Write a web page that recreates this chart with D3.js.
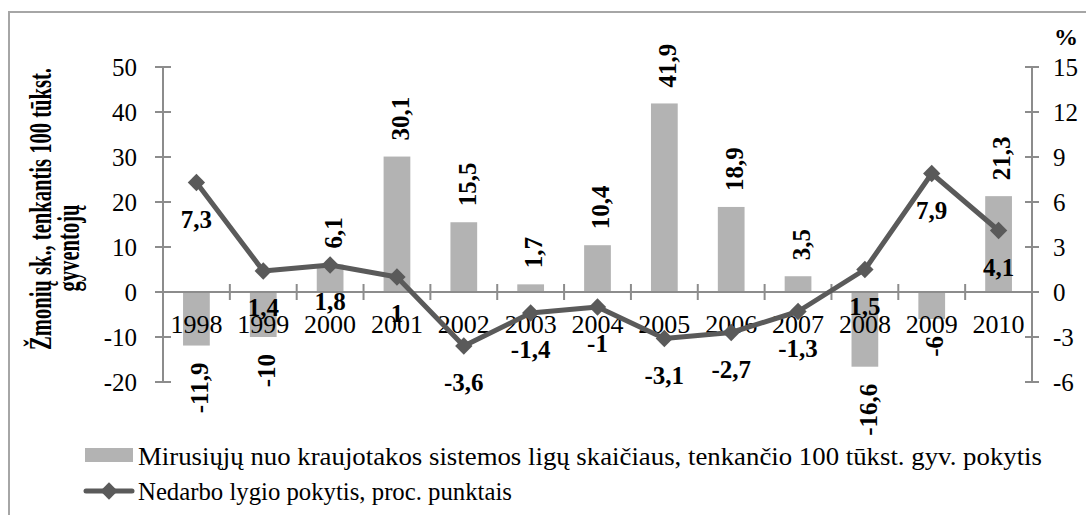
<!DOCTYPE html>
<html>
<head>
<meta charset="utf-8">
<script src="https://cdn.jsdelivr.net/npm/d3@7"></script>
<style>
  html, body { margin: 0; padding: 0; background: #fff; }
  svg { display: block; font-family: "Liberation Serif", "Times New Roman", serif; }
</style>
</head>
<body>
<svg id="chart" width="1086" height="515"></svg>
<script>
// Years on the category axis
const years = ["1998","1999","2000","2001","2002","2003","2004","2005","2006","2007","2008","2009","2010"];
// Change in deaths from circulatory diseases per 100k inhabitants (bars, left axis)
const deathChange = [-11.9, -10, 6.1, 30.1, 15.5, 1.7, 10.4, 41.9, 18.9, 3.5, -16.6, -6, 21.3];
// Change in unemployment rate, percentage points (line, right axis)
const unemploymentChange = [7.3, 1.4, 1.8, 1, -3.6, -1.4, -1, -3.1, -2.7, -1.3, 1.5, 7.9, 4.1];
// Axis tick values
const leftTicks = [-20, -10, 0, 10, 20, 30, 40, 50];
const rightTicks = [-6, -3, 0, 3, 6, 9, 12, 15];
// Texts
const leftTitle = ["Žmonių sk., tenkantis 100 tūkst.", "gyventojų"];
const rightTitle = "%";
const legendLabels = [
  "Mirusiųjų nuo kraujotakos sistemos ligų skaičiaus, tenkančio 100 tūkst. gyv. pokytis",
  "Nedarbo lygio pokytis, proc. punktais"
];

const fmt = v => String(v).replace(".", ",");

const svg = d3.select("#chart");
const axisColor = "#8c8c8c";
const barColor = "#b3b3b3";
const lineColor = "#5a5a5a";

// Outer frame
svg.append("rect")
  .attr("x", 9).attr("y", 12).attr("width", 1100).attr("height", 520)
  .attr("fill", "none").attr("stroke", "#a6a6a6").attr("stroke-width", 2);

const plotLeft = 163, plotRight = 1032, plotTop = 67, plotBottom = 382;

const x = d3.scaleBand().domain(years).range([plotLeft, plotRight])
  .paddingInner(0.6).paddingOuter(0.3);
const yL = d3.scaleLinear().domain([-20, 50]).range([plotBottom, plotTop]);
const yR = d3.scaleLinear().domain([-6, 15]).range([plotBottom, plotTop]);
const cx = d => x(d) + x.bandwidth() / 2;

const barData = years.map((y, i) => ({ year: y, v: deathChange[i] }));
const lineData = years.map((y, i) => ({ year: y, v: unemploymentChange[i] }));

// Bars
svg.append("g").selectAll("rect").data(barData).join("rect")
  .attr("x", d => x(d.year))
  .attr("width", x.bandwidth())
  .attr("y", d => Math.min(yL(d.v), yL(0)))
  .attr("height", d => Math.abs(yL(d.v) - yL(0)))
  .attr("fill", barColor);

// Left value axis
const gL = svg.append("g");
gL.append("line").attr("x1", plotLeft).attr("x2", plotLeft)
  .attr("y1", yL(-20)).attr("y2", yL(50)).attr("stroke", axisColor).attr("stroke-width", 2);
gL.selectAll("line.t").data(leftTicks).join("line").attr("class", "t")
  .attr("x1", plotLeft - 8).attr("x2", plotLeft + 8)
  .attr("y1", d => yL(d)).attr("y2", d => yL(d))
  .attr("stroke", axisColor).attr("stroke-width", 2);
gL.selectAll("text").data(leftTicks).join("text")
  .attr("x", 137).attr("y", d => yL(d)).attr("dy", "0.34em")
  .attr("text-anchor", "end").attr("font-size", 25).attr("fill", "#000")
  .text(d => String(d));

// Right value axis
const gR = svg.append("g");
gR.append("line").attr("x1", plotRight).attr("x2", plotRight)
  .attr("y1", yR(-6)).attr("y2", yR(15)).attr("stroke", axisColor).attr("stroke-width", 2);
gR.selectAll("line.t").data(rightTicks).join("line").attr("class", "t")
  .attr("x1", plotRight - 7).attr("x2", plotRight + 7)
  .attr("y1", d => yR(d)).attr("y2", d => yR(d))
  .attr("stroke", axisColor).attr("stroke-width", 2);
gR.selectAll("text").data(rightTicks).join("text")
  .attr("x", 1053).attr("y", d => yR(d)).attr("dy", "0.34em")
  .attr("text-anchor", "start").attr("font-size", 25).attr("fill", "#000")
  .text(d => String(d));
gR.append("text").attr("x", 1066).attr("y", 45).attr("text-anchor", "middle")
  .attr("font-size", 24).attr("font-weight", "bold").text(rightTitle);

// Category axis along zero
const y0 = yL(0);
const gX = svg.append("g");
gX.append("line").attr("x1", plotLeft).attr("x2", plotRight)
  .attr("y1", y0).attr("y2", y0).attr("stroke", axisColor).attr("stroke-width", 2);
const bounds = years.map(d => cx(d) - x.step() / 2).concat([cx(years[years.length - 1]) + x.step() / 2]);
gX.selectAll("line.t").data(bounds).join("line").attr("class", "t")
  .attr("x1", d => d).attr("x2", d => d)
  .attr("y1", y0 - 8).attr("y2", y0 + 8)
  .attr("stroke", axisColor).attr("stroke-width", 2);
gX.selectAll("text").data(years).join("text")
  .attr("x", d => cx(d)).attr("y", 333)
  .attr("text-anchor", "middle").attr("font-size", 26).text(d => d);

// Left axis title: two rotated lines, tall narrow lettering
const titlePos = [{ x: 51, y: 209, len: 282 }, { x: 79, y: 248, len: 87 }];
svg.append("g").selectAll("text").data(leftTitle).join("text")
  .attr("transform", (d, i) => `translate(${titlePos[i].x},${titlePos[i].y}) rotate(-90) scale(1,1.5)`)
  .attr("text-anchor", "middle").attr("font-size", 21).attr("font-weight", "bold")
  .attr("textLength", (d, i) => titlePos[i].len).attr("lengthAdjust", "spacingAndGlyphs")
  .text(d => d);

// Bar value labels, rotated, just beyond the bar end
svg.append("g").selectAll("text").data(barData).join("text")
  .attr("transform", d => {
    const yy = d.v >= 0 ? yL(d.v) - 16 : yL(d.v) + 17;
    return `translate(${cx(d.year) + 3},${yy}) rotate(-90)`;
  })
  .attr("dy", "0.35em")
  .attr("text-anchor", d => d.v >= 0 ? "start" : "end")
  .attr("font-size", 25).attr("font-weight", "bold")
  .text(d => fmt(d.v));

// Unemployment line with diamond markers
const line = d3.line().x(d => cx(d.year)).y(d => yR(d.v));
svg.append("path").datum(lineData).attr("d", line)
  .attr("fill", "none").attr("stroke", lineColor).attr("stroke-width", 5)
  .attr("stroke-linejoin", "round");
const marker = d3.symbol().type(d3.symbolSquare).size(150);
svg.append("g").selectAll("path").data(lineData).join("path")
  .attr("transform", d => `translate(${cx(d.year)},${yR(d.v)}) rotate(45)`)
  .attr("d", marker)
  .attr("fill", lineColor);

// Line value labels below each point
svg.append("g").selectAll("text").data(lineData).join("text")
  .attr("x", d => cx(d.year)).attr("y", d => yR(d.v) + 45)
  .attr("text-anchor", "middle").attr("font-size", 25).attr("font-weight", "bold")
  .text(d => fmt(d.v));

// Legend
const lg = svg.append("g");
lg.append("rect").attr("x", 85).attr("y", 448).attr("width", 48).attr("height", 14).attr("fill", barColor);
lg.append("line").attr("x1", 86).attr("x2", 132).attr("y1", 491).attr("y2", 491)
  .attr("stroke", lineColor).attr("stroke-width", 5).attr("stroke-linecap", "round");
lg.append("path").attr("transform", "translate(109,491) rotate(45)")
  .attr("d", marker).attr("fill", lineColor);
const legendLen = [904, 374];
lg.selectAll("text").data(legendLabels).join("text")
  .attr("x", 138).attr("y", (d, i) => i === 0 ? 465 : 500)
  .attr("font-size", 25)
  .attr("textLength", (d, i) => legendLen[i]).attr("lengthAdjust", "spacingAndGlyphs")
  .text(d => d);
</script>
</body>
</html>
